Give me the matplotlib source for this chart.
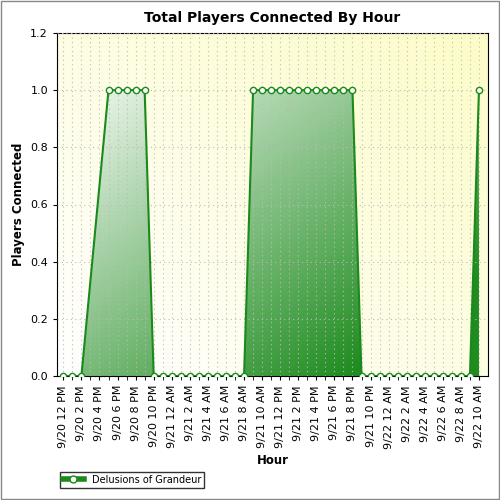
import numpy as np
import matplotlib
matplotlib.use("Agg")
import matplotlib.pyplot as plt
from matplotlib.patches import Polygon, Rectangle
from matplotlib.colors import LinearSegmentedColormap

hours = list(range(47))
tick_labels = ["9/20 12 PM","9/20 2 PM","9/20 4 PM","9/20 6 PM","9/20 8 PM","9/20 10 PM",
               "9/21 12 AM","9/21 2 AM","9/21 4 AM","9/21 6 AM","9/21 8 AM","9/21 10 AM",
               "9/21 12 PM","9/21 2 PM","9/21 4 PM","9/21 6 PM","9/21 8 PM","9/21 10 PM",
               "9/22 12 AM","9/22 2 AM","9/22 4 AM","9/22 6 AM","9/22 8 AM","9/22 10 AM"]
players = [0,0,0,np.nan,np.nan,1,1,1,1,1,0,0,0,0,0,0,0,0,0,0,0,
           1,1,1,1,1,1,1,1,1,1,1,1,0,0,0,0,0,0,0,0,0,0,0,0,0,1]

X0, X1 = -0.7, 47.0
fig = plt.figure(figsize=(5,5), dpi=100)
fig.patch.set_facecolor("white")
fig.add_artist(Rectangle((0.002,0.002),0.996,0.996,transform=fig.transFigure,fill=False,ec="#888888",lw=1))
ax = fig.add_axes([0.114, 0.248, 0.862, 0.686])
ax.set_xlim(X0, X1)
ax.set_ylim(0, 1.2)

bgcmap = LinearSegmentedColormap.from_list("bg", ["#ffffff", "#fcfcc8"])
g = np.add.outer(np.linspace(0,1,100), np.linspace(0,1,100)) / 2
ax.imshow(g, cmap=bgcmap, extent=[X0,X1,0,1.2], origin="lower", aspect="auto", zorder=0)

x = np.array(hours, float); y = np.array(players, float)
m = ~np.isnan(y)
xs, ys = x[m], y[m]
poly = Polygon(np.column_stack([np.r_[xs[0], xs, xs[-1]], np.r_[0, ys, 0]]), closed=True,
               fc="none", ec="none", transform=ax.transData)
ax.add_patch(poly)
gcmap = LinearSegmentedColormap.from_list("gr", ["#ffffff", "#1e8c1e"])
gg = (np.linspace(0,1,100)[None,:] + (1-np.linspace(0,1,100))[:,None]) / 2
im = ax.imshow(gg, cmap=gcmap, extent=[X0,X1,0,1.2], origin="lower", aspect="auto", zorder=1,
               vmin=0.05, vmax=0.85)
im.set_clip_path(poly)

ax.plot(xs, ys, color="#1a8a1a", lw=1.5, zorder=3)
ax.plot(xs, ys, ls="none", marker="o", ms=4.5, mfc="white", mec="#1a8a1a", mew=1, zorder=4)

ax.set_xticks(list(range(0, 47, 2)))
ax.set_xticklabels(tick_labels, rotation=90, fontsize=8)
ax.set_xticks(hours, minor=True)
ax.set_yticks(np.arange(0, 1.21, 0.2))
ax.set_yticklabels([f"{v:.1f}" for v in np.arange(0, 1.21, 0.2)], fontsize=8)
ax.grid(True, which="both", ls=(0,(1,3)), color="#bbbbbb", lw=0.8, zorder=0.5)
ax.set_axisbelow(False)
ax.tick_params(which="both", length=3)
ax.set_xlabel("Hour", fontsize=8.5, fontweight="bold")
ax.set_ylabel("Players Connected", fontsize=8.5, fontweight="bold")
ax.set_title("Total Players Connected By Hour", fontsize=10, fontweight="bold", pad=8)

from matplotlib.lines import Line2D
h = Line2D([], [], color="#1a8a1a", lw=4, marker="o", mfc="white", mec="#1a8a1a", ms=5)
fig.legend([h], ["Delusions of Grandeur"], loc="lower left", bbox_to_anchor=(0.11, 0.015),
           fontsize=7, frameon=True, fancybox=False, edgecolor="black", borderpad=0.3,
           handlelength=2.2)
fig.savefig("out.png", dpi=100)
